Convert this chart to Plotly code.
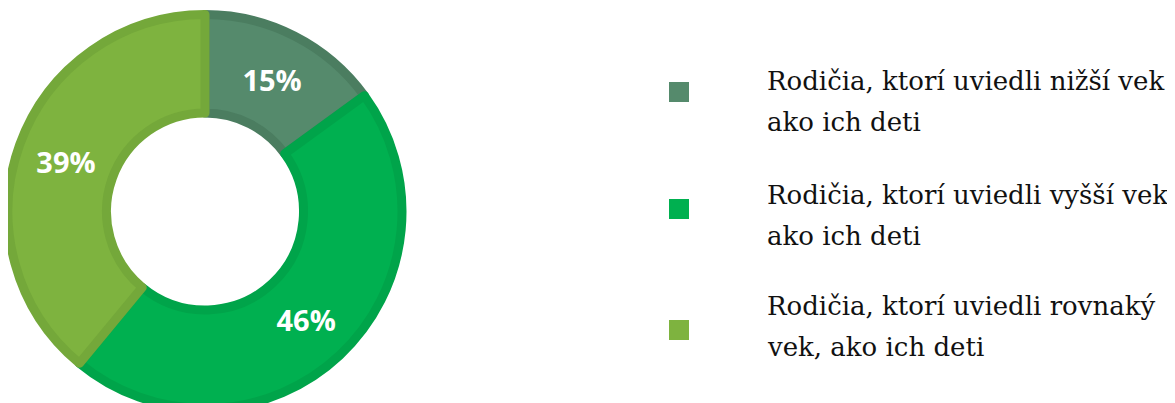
import plotly.graph_objects as go

# data
labels = [
    "Rodičia, ktorí uviedli nižší vek<br>ako ich deti",
    "Rodičia, ktorí uviedli vyšší vek<br>ako ich deti",
    "Rodičia, ktorí uviedli rovnaký<br>vek, ako ich deti",
]
values = [15, 46, 39]
fill_colors = ["#558a6c", "#00b050", "#7eb33f"]
edge_colors = ["#4b7d60", "#00a44a", "#74a83a"]

W, H = 1175, 403
OFF = 8  # page body margin in the browser

def px(x):
    return (x - OFF) / W

def py(y):
    return 1 - (y - OFF) / H

fig = go.Figure()
fig.add_trace(go.Pie(
    labels=labels,
    values=values,
    hole=0.5,
    sort=False,
    direction="clockwise",
    rotation=0,
    texttemplate="%{value}%",
    textposition="inside",
    insidetextorientation="horizontal",
    textfont=dict(family="Open Sans", size=29, color="white", weight="bold"),
    marker=dict(colors=fill_colors, line=dict(color=edge_colors, width=9)),
    domain=dict(x=[px(8), px(402)], y=[0, py(12)]),
    showlegend=False,
))

# hand-made legend: square swatch + two text lines per item
sq_top = [82, 199, 320]
line1_base = [90, 204, 315]
gap = 41
fs = 26
for i, lab in enumerate(labels):
    y0 = sq_top[i]
    fig.add_shape(type="rect", xref="paper", yref="paper",
                  x0=px(669), x1=px(689), y0=py(y0), y1=py(y0 + 20),
                  fillcolor=fill_colors[i], line=dict(width=0))
    for j, part in enumerate(lab.split("<br>")):
        base = line1_base[i] + j * gap
        fig.add_annotation(
            x=px(765), y=py(base - 0.36 * fs), xref="paper", yref="paper",
            text=part, showarrow=False, xanchor="left", yanchor="middle",
            font=dict(family="DejaVu Serif", size=fs, color="#111111"),
        )

fig.update_layout(
    width=W, height=H,
    margin=dict(l=0, r=0, t=0, b=0),
    paper_bgcolor="white",
    plot_bgcolor="white",
)

fig.write_html("out.html")
